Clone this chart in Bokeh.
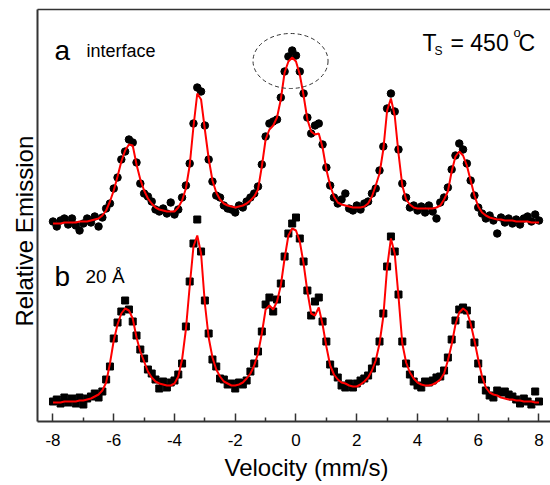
from bokeh.plotting import figure
from bokeh.models import Range1d, Label, FixedTicker, LinearAxis, Title
from bokeh.embed import file_html
from bokeh.resources import INLINE

# Velocity channels (mm/s)
velocity = [
    -8.0, -7.875, -7.75, -7.625, -7.5, -7.375, -7.25, -7.125,
    -7.0, -6.875, -6.75, -6.625, -6.5, -6.375, -6.25, -6.125,
    -6.0, -5.875, -5.75, -5.625, -5.5, -5.375, -5.25, -5.125,
    -5.0, -4.875, -4.75, -4.625, -4.5, -4.375, -4.25, -4.125,
    -4.0, -3.875, -3.75, -3.625, -3.5, -3.375, -3.25, -3.125,
    -3.0, -2.875, -2.75, -2.625, -2.5, -2.375, -2.25, -2.125,
    -2.0, -1.875, -1.75, -1.625, -1.5, -1.375, -1.25, -1.125,
    -1.0, -0.875, -0.75, -0.625, -0.5, -0.375, -0.25, -0.125,
    0.0, 0.125, 0.25, 0.375, 0.5, 0.625, 0.75, 0.875,
    1.0, 1.125, 1.25, 1.375, 1.5, 1.625, 1.75, 1.875,
    2.0, 2.125, 2.25, 2.375, 2.5, 2.625, 2.75, 2.875,
    3.0, 3.125, 3.25, 3.375, 3.5, 3.625, 3.75, 3.875,
    4.0, 4.125, 4.25, 4.375, 4.5, 4.625, 4.75, 4.875,
    5.0, 5.125, 5.25, 5.375, 5.5, 5.625, 5.75, 5.875,
    6.0, 6.125, 6.25, 6.375, 6.5, 6.625, 6.75, 6.875,
    7.0, 7.125, 7.25, 7.375, 7.5, 7.625, 7.75, 7.875,
    8.0,
]

# (a) interface - measured emission (circles) and fit (red line), relative units
emission_a = [
    200, 195, 201, 203, 197, 203, 196, 191,
    198, 203, 199, 205, 195, 204, 213, 218,
    233, 244, 262, 270, 282, 279, 259, 238,
    228, 225, 220, 212, 210, 213, 208, 219,
    207, 212, 224, 236, 258, 298, 334, 330,
    296, 262, 240, 226, 224, 216, 213, 212,
    209, 216, 214, 220, 224, 228, 235, 257,
    285, 298, 300, 302, 324, 350, 365, 371,
    366, 350, 328, 304, 288, 296, 298, 277,
    254, 236, 224, 218, 222, 228, 213, 211,
    216, 212, 218, 220, 228, 233, 251, 275,
    313, 328, 310, 272, 238, 224, 214, 216,
    211, 215, 209, 216, 210, 203, 219, 224,
    234, 252, 266, 278, 272, 258, 241, 226,
    214, 208, 203, 206, 201, 188, 204, 199,
    203, 198, 202, 197, 203, 205, 200, 207,
    201,
]
fit_a = [
    198, 198, 198, 199, 199, 199, 199, 200,
    200, 200, 201, 202, 203, 206, 211, 220,
    231, 245, 260, 271, 277, 276, 257, 242,
    231, 223, 218, 214, 212, 211, 210, 210,
    210, 214, 221, 233, 256, 295, 328, 322,
    292, 263, 241, 229, 222, 218, 216, 215,
    214, 215, 216, 218, 221, 225, 232, 255,
    282, 292, 296, 304, 322, 349, 360, 364,
    360, 347, 326, 302, 290, 287, 288, 274,
    252, 236, 225, 219, 217, 216, 215, 214,
    214, 214, 215, 218, 225, 236, 248, 272,
    311, 323, 306, 268, 236, 222, 217, 214,
    213, 213, 213, 213, 213, 214, 216, 222,
    230, 250, 265, 270, 266, 256, 241, 226,
    215, 209, 206, 204, 203, 202, 202, 201,
    201, 201, 200, 200, 200, 200, 199, 199,
    199,
]

# (b) 20 A - measured emission (squares) and fit (red line), relative units
emission_b = [
    20, 22, 18, 24, 19, 23, 18, 24,
    17, 23, 25, 28, 24, 30, 42, 55,
    83, 99, 110, 121, 112, 100, 86, 72,
    63, 52, 48, 42, 33, 40, 34, 39,
    41, 47, 58, 95, 140, 178, 202, 170,
    121, 88, 62, 55, 43, 42, 37, 38,
    33, 39, 37, 41, 50, 58, 70, 90,
    117, 124, 110, 122, 138, 165, 188, 198,
    204, 183, 160, 131, 106, 120, 124, 100,
    80, 57, 50, 44, 36, 34, 38, 34,
    38, 41, 43, 46, 53, 60, 80, 108,
    155, 185, 170, 127, 80, 58, 47, 40,
    36, 34, 40, 39, 41, 44, 45, 51,
    64, 82, 101, 112, 114, 111, 97, 79,
    58, 42, 31, 26, 24, 31, 29, 30,
    27, 25, 22, 18, 23, 20, 17, 30,
    20,
]
fit_b = [
    19, 19, 19, 20, 20, 20, 20, 21,
    21, 22, 23, 25, 27, 31, 39, 58,
    81, 97, 108, 113, 111, 103, 84, 70,
    60, 50, 44, 40, 38, 37, 36, 36,
    38, 45, 62, 92, 135, 175, 186, 168,
    118, 84, 64, 52, 45, 40, 38, 36,
    36, 37, 39, 43, 48, 56, 68, 88,
    112, 116, 112, 120, 136, 163, 186, 193,
    191, 180, 158, 130, 108, 106, 114, 97,
    75, 56, 47, 42, 39, 38, 36, 35,
    35, 37, 40, 44, 51, 61, 78, 105,
    154, 183, 168, 125, 78, 59, 49, 43,
    39, 37, 36, 36, 37, 39, 42, 48,
    61, 77, 97, 109, 113, 110, 98, 81,
    62, 45, 34, 29, 27, 26, 24, 23,
    22, 22, 21, 21, 20, 20, 20, 19,
    19,
]

tick_values = [-8, -6, -4, -2, 0, 2, 4, 6, 8]
minor_tick_values = [-7, -5, -3, -1, 1, 3, 5, 7]
tick_labels = ["-8", "-6", "-4", "-2", "0", "2", "4", "6", "8"]

FONT = "Liberation Sans"
AXIS_COLOR = "#333333"

p = figure(
    width=550, height=485,
    x_range=Range1d(-8.51, 8.379), y_range=Range1d(0, 412),
    output_backend="svg", toolbar_location=None,
    min_border_left=37, min_border_right=0, min_border_top=9, min_border_bottom=64,
)
p.grid.visible = False
p.outline_line_color = None
p.background_fill_color = "white"
p.border_fill_color = "white"

# data + fits
p.scatter(velocity, emission_a, marker="circle", size=7.5, color="black")
p.line(velocity, fit_a, line_color="red", line_width=2)
p.scatter(velocity, emission_b, marker="square", size=7, color="black")
p.line(velocity, fit_b, line_color="red", line_width=2)

# dashed ellipse around the central peak of (a)
ellipse_x, ellipse_y, ellipse_w, ellipse_h = -0.18, 360.5, 2.47, 55
p.ellipse(x=[ellipse_x], y=[ellipse_y], width=ellipse_w, height=ellipse_h,
          fill_color=None, line_color="#333333", line_width=1, line_dash="4 3")

# x axis
xa = p.xaxis[0]
xa.ticker = FixedTicker(ticks=tick_values, minor_ticks=minor_tick_values)
xa.major_label_overrides = {float(v): l for v, l in zip(tick_values, tick_labels)}
xa.major_label_text_font = FONT
xa.major_label_text_font_size = "17px"
xa.major_label_text_color = "black"
xa.major_label_standoff = 12
xa.axis_line_color = AXIS_COLOR
xa.axis_line_width = 2
xa.major_tick_line_color = AXIS_COLOR
xa.major_tick_line_width = 1.5
xa.major_tick_in = 8
xa.major_tick_out = 0
xa.minor_tick_line_color = AXIS_COLOR
xa.minor_tick_line_width = 1.5
xa.minor_tick_in = 4
xa.minor_tick_out = 0

# top frame line (plain axis without ticks or labels)
top = LinearAxis(ticker=FixedTicker(ticks=[], minor_ticks=[]),
                 axis_line_color=AXIS_COLOR, axis_line_width=1.5,
                 major_tick_line_color=None, minor_tick_line_color=None,
                 major_label_standoff=0, axis_label=None)
p.add_layout(top, "above")

# y axis (line only)
ya = p.yaxis[0]
ya.ticker = FixedTicker(ticks=[], minor_ticks=[])
ya.major_label_standoff = 0
ya.axis_line_color = AXIS_COLOR
ya.axis_line_width = 2
ya.major_tick_line_color = None
ya.minor_tick_line_color = None

# axis titles as side titles
p.add_layout(Title(text="Velocity (mm/s)", align="left", offset=187, standoff=6,
                   text_font=FONT, text_font_size="24px", text_font_style="normal",
                   text_color="black"), "below")
p.add_layout(Title(text="Relative Emission", align="left", offset=95, standoff=0,
                   text_font=FONT, text_font_size="24px", text_font_style="normal",
                   text_color="black"), "left")

def add_label(x, y, text, size):
    p.add_layout(Label(x=x, y=y, text=text, text_font=FONT, text_font_size=size,
                       text_color="black", text_baseline="alphabetic", text_align="left"))

# panel labels
add_label(-7.95, 371, "a", "28px")
add_label(-6.90, 371, "interface", "18px")
add_label(-7.95, 145, "b", "28px")
add_label(-6.93, 145, "20 Å", "19px")
add_label(4.165, 379, "T", "23px")
add_label(4.56, 371, "S", "12px")
add_label(5.087, 379, "= 450", "23px")
add_label(7.16, 389, "o", "13px")
add_label(7.325, 379, "C", "23px")

open("out.html", "w").write(file_html(p, INLINE))
